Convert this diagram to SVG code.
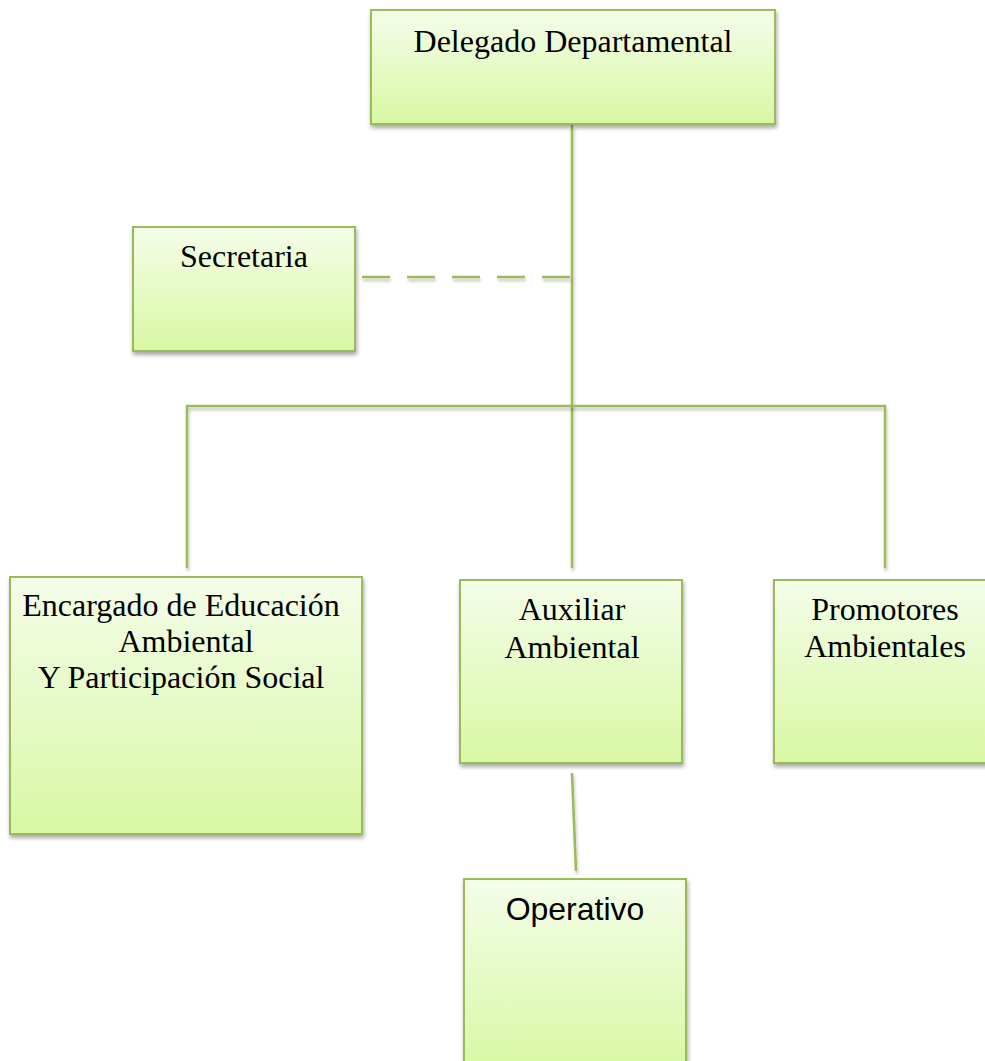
<svg xmlns="http://www.w3.org/2000/svg" width="985" height="1061" viewBox="0 0 985 1061">
<defs>
<linearGradient id="g" x1="0" y1="0" x2="0" y2="1">
<stop offset="0" stop-color="#f4fde9"/>
<stop offset="1" stop-color="#d8f8a4"/>
</linearGradient>
<filter id="sh" x="-10%" y="-10%" width="130%" height="130%">
<feGaussianBlur in="SourceAlpha" stdDeviation="2"/>
<feOffset dx="1" dy="3" result="b"/>
<feComponentTransfer><feFuncA type="linear" slope="0.35"/></feComponentTransfer>
<feMerge><feMergeNode/><feMergeNode in="SourceGraphic"/></feMerge>
</filter>
<filter id="lsh" filterUnits="userSpaceOnUse" x="0" y="0" width="985" height="1061">
<feGaussianBlur in="SourceAlpha" stdDeviation="1.5"/>
<feOffset dx="1" dy="3"/>
<feComponentTransfer><feFuncA type="linear" slope="0.25"/></feComponentTransfer>
<feMerge><feMergeNode/><feMergeNode in="SourceGraphic"/></feMerge>
</filter>
</defs>
<style>
.box{fill:url(#g);stroke:#9bbb59;stroke-width:2;filter:url(#sh)}
.t{font-family:"Liberation Serif","Times New Roman",serif;font-size:32px;fill:#000;text-anchor:middle}
.s{font-family:"Liberation Sans",Arial,sans-serif;font-size:32px;fill:#000;text-anchor:middle}
.c{stroke:#9bbb59;stroke-width:2.5;fill:none;filter:url(#lsh)}
</style>
<rect width="985" height="1061" fill="#fff"/>
<g id="connectors">
<path class="c" d="M572 125 V568"/>
<path class="c" d="M187 568 V406 H885 V568"/>
<path class="c" d="M362 277 H572" stroke-dasharray="28 17"/>
<path class="c" d="M572 773 L576 871"/>
</g>
<g id="delegado">
<rect class="box" x="371" y="10" width="404" height="114"/>
<text class="t" x="573" y="52">Delegado Departamental</text>
</g>
<g id="secretaria">
<rect class="box" x="133" y="227" width="222" height="124"/>
<text class="t" x="244" y="267">Secretaria</text>
</g>
<g id="encargado">
<rect class="box" x="10" y="577" width="352" height="257"/>
<text class="t" x="181" y="616">Encargado de Educación</text>
<text class="t" x="186" y="652">Ambiental</text>
<text class="t" x="181" y="688"> Y Participación Social</text>
</g>
<g id="auxiliar">
<rect class="box" x="460" y="580" width="222" height="183"/>
<text class="t" x="572" y="620">Auxiliar</text>
<text class="t" x="572" y="658">Ambiental</text>
</g>
<g id="promotores">
<rect class="box" x="774" y="580" width="222" height="183"/>
<text class="t" x="885" y="620">Promotores</text>
<text class="t" x="885" y="657">Ambientales</text>
</g>
<g id="operativo">
<rect class="box" x="464" y="879" width="222" height="190"/>
<text class="s" x="575" y="920">Operativo</text>
</g>
</svg>
